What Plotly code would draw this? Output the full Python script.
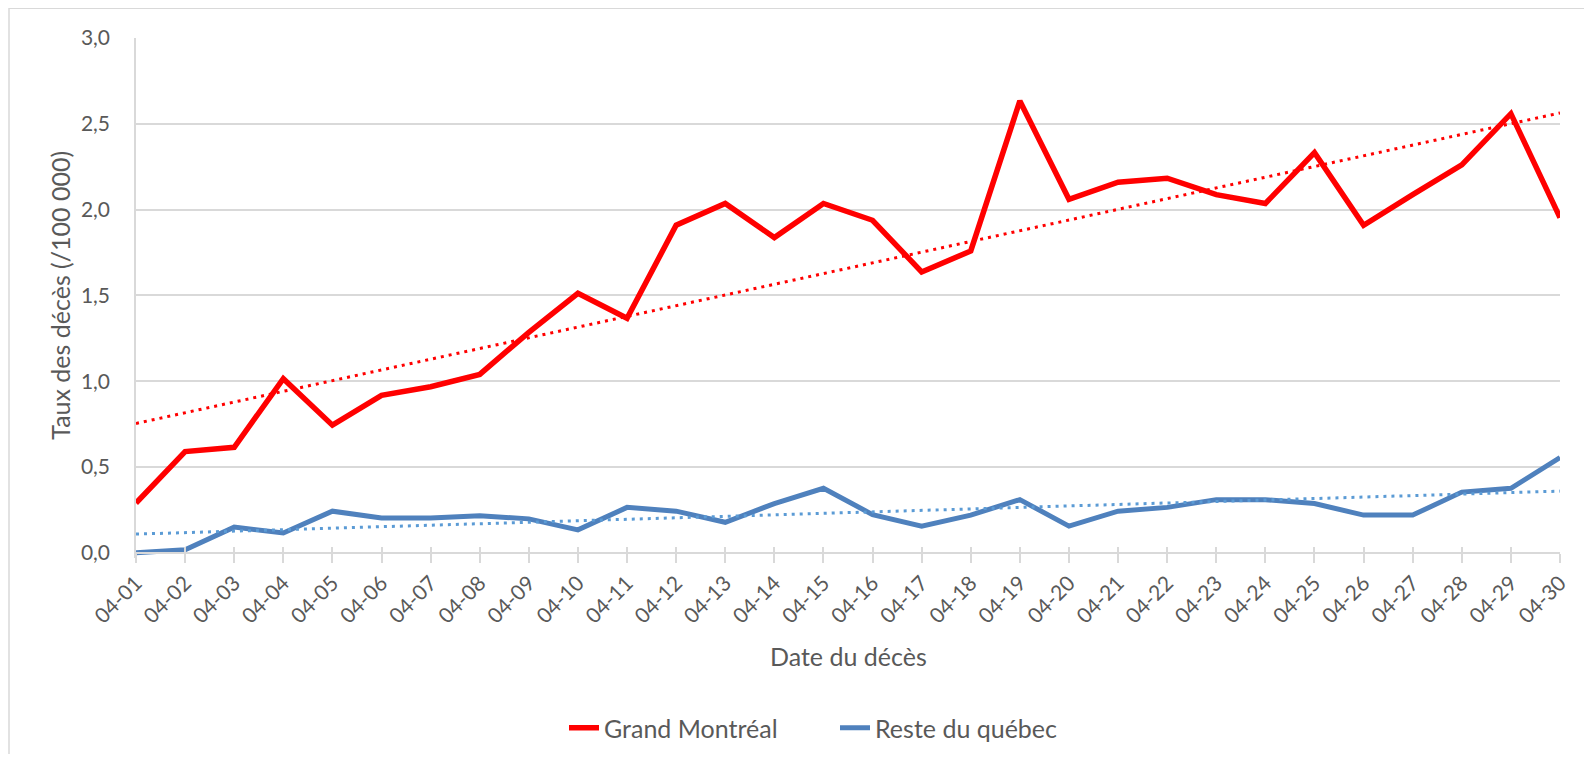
import numpy as np
import plotly.graph_objects as go

dates = ["04-01", "04-02", "04-03", "04-04", "04-05", "04-06", "04-07", "04-08", "04-09", "04-10",
         "04-11", "04-12", "04-13", "04-14", "04-15", "04-16", "04-17", "04-18", "04-19", "04-20",
         "04-21", "04-22", "04-23", "04-24", "04-25", "04-26", "04-27", "04-28", "04-29", "04-30"]

grand_montreal = [0.29, 0.59, 0.615, 1.015, 0.744, 0.918, 0.968, 1.04, 1.285, 1.512,
                  1.367, 1.909, 2.036, 1.837, 2.036, 1.938, 1.637, 1.759, 2.633, 2.060,
                  2.160, 2.183, 2.087, 2.036, 2.332, 1.909, 2.087, 2.261, 2.559, 1.953]

reste_quebec = [0.0, 0.018, 0.150, 0.116, 0.243, 0.203, 0.203, 0.216, 0.198, 0.134,
                0.265, 0.243, 0.178, 0.287, 0.376, 0.223, 0.156, 0.220, 0.310, 0.156,
                0.243, 0.265, 0.310, 0.310, 0.287, 0.220, 0.220, 0.354, 0.376, 0.555]

y_ticks = [0.0, 0.5, 1.0, 1.5, 2.0, 2.5, 3.0]

# Linear trendlines (least squares, as in the spreadsheet)
idx = np.arange(len(dates))
gm_fit = np.polyval(np.polyfit(idx, grand_montreal, 1), idx)
rq_fit = np.polyval(np.polyfit(idx, reste_quebec, 1), idx)

OFF = 8  # default page body margin
W, H = 1576, 746
L = 136 - OFF
T = 38.3 - OFF
R = W - (1560 - OFF)
Y0_PX = 553.0 - OFF
PX_PER_UNIT = (553.0 - 38.3) / 3.0
YMIN = -0.03
bottom_px = Y0_PX - YMIN * PX_PER_UNIT
B = H - bottom_px
plot_w = W - L - R
plot_h = bottom_px - T
zero_pos = (-YMIN) / (3.0 - YMIN)

def px_x(px):  # page pixel -> paper
    return (px - OFF - L) / plot_w

def px_y(py):
    return (bottom_px - (py - OFF)) / plot_h

TXT = "#595959"
GRID = "#d9d9d9"
FONT = "Lato, Carlito, Calibri, sans-serif"

fig = go.Figure()
fig.add_trace(go.Scatter(x=dates, y=grand_montreal, mode="lines", name="Grand Montréal",
                         line=dict(color="#FF0000", width=5.5), hoverinfo="x+y"))
fig.add_trace(go.Scatter(x=dates, y=reste_quebec, mode="lines", name="Reste du québec",
                         line=dict(color="#4F81BD", width=5), hoverinfo="x+y"))
fig.add_trace(go.Scatter(x=dates, y=gm_fit, mode="lines", showlegend=False,
                         line=dict(color="#FF0000", width=3, dash="3px,5px"), hoverinfo="skip"))
fig.add_trace(go.Scatter(x=dates, y=rq_fit, mode="lines", showlegend=False,
                         line=dict(color="#5B9BD5", width=3, dash="3px,5px"), hoverinfo="skip"))
# helper trace for the overlay axis (inner half of the crossing ticks)
fig.add_trace(go.Scatter(x=dates, y=reste_quebec, mode="lines", xaxis="x2", showlegend=False,
                         line=dict(width=0), opacity=0, hoverinfo="skip"))

fig.update_layout(
    width=W, height=H,
    margin=dict(l=L, r=R, t=T, b=B, pad=0),
    paper_bgcolor="white", plot_bgcolor="white",
    separators=", ",
    font=dict(family=FONT, color=TXT, size=21),
    showlegend=True,
    legend=dict(orientation="h", xref="container", yref="container",
                x=(564 - OFF) / W, xanchor="left", y=(H - (728 - OFF)) / H, yanchor="middle",
                font=dict(size=25, color=TXT), entrywidth=226, entrywidthmode="pixels",
                tracegroupgap=0, bgcolor="rgba(0,0,0,0)"),
    xaxis=dict(type="category", categoryorder="array", categoryarray=dates,
               range=[0, len(dates) - 1], anchor="free", position=zero_pos,
               showgrid=False, zeroline=False,
               showline=True, linecolor=GRID, linewidth=1.5,
               ticks="outside", ticklen=9, tickcolor=GRID, tickwidth=1.5,
               tickangle=-45, tickfont=dict(size=21, color=TXT, family=FONT),
               fixedrange=True),
    xaxis2=dict(type="category", categoryorder="array", categoryarray=dates,
                range=[0, len(dates) - 1], overlaying="x", anchor="free", position=zero_pos,
                showgrid=False, zeroline=False, showline=False,
                ticks="inside", ticklen=6, tickcolor=GRID, tickwidth=1.5,
                showticklabels=False, fixedrange=True),
    yaxis=dict(range=[YMIN, 3.0], tickvals=y_ticks, tickformat=".1f",
               showgrid=True, gridcolor=GRID, gridwidth=1.5, zeroline=False,
               showline=True, linecolor=GRID, linewidth=1.5,
               ticks="outside", ticklen=20, tickcolor="rgba(0,0,0,0)",
               tickfont=dict(size=21, color=TXT, family=FONT), fixedrange=True),
    annotations=[
        dict(text="Date du décès", xref="paper", yref="paper",
             x=0.5, y=px_y(656), xanchor="center", yanchor="middle",
             showarrow=False, font=dict(size=25, color=TXT, family=FONT)),
        dict(text="Taux des décès (/100 000)", xref="paper", yref="paper",
             x=px_x(60), y=px_y(296), xanchor="center", yanchor="middle",
             textangle=-90, showarrow=False, font=dict(size=25, color=TXT, family=FONT)),
    ],
    shapes=[
        dict(type="rect", xref="paper", yref="paper",
             x0=px_x(9), x1=px_x(1640), y0=px_y(820), y1=px_y(8.5),
             line=dict(color=GRID, width=1.5), fillcolor="rgba(0,0,0,0)", layer="below"),
    ],
)

fig.write_html("out.html", config={"displayModeBar": False})
